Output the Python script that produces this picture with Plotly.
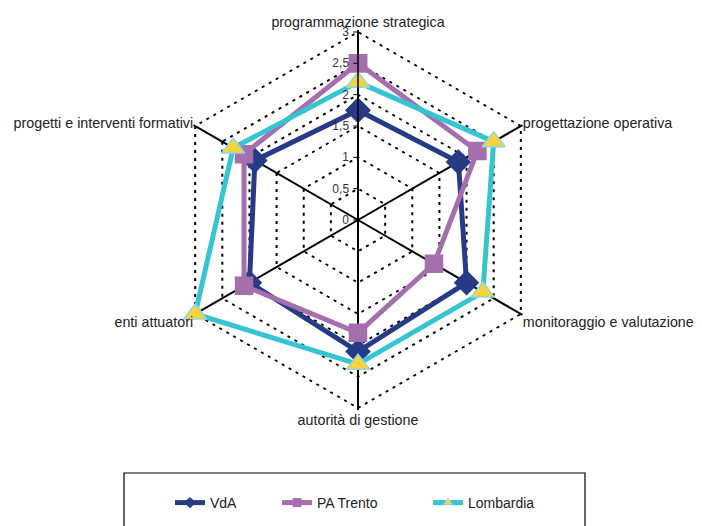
import plotly.graph_objects as go

categories = [
    "programmazione strategica",
    "progettazione operativa",
    "monitoraggio e valutazione",
    "autorità di gestione",
    "enti attuatori",
    "progetti e interventi formativi",
]
vda = [1.75, 1.85, 2.0, 2.1, 2.0, 1.9]
pa_trento = [2.5, 2.2, 1.4, 1.8, 2.1, 2.1]
lombardia = [2.2, 2.5, 2.3, 2.3, 3.0, 2.3]
radial_ticks = [0, 0.5, 1, 1.5, 2, 2.5, 3]

series = [
    # name, values, line colour, marker symbol, marker size, marker fill, marker edge, legend id
    ("VdA", vda, "#263A85", "diamond", 18, "#263A85", "#263A85", "legend"),
    ("PA Trento", pa_trento, "#A56EAD", "square", 17, "#A56EAD", "#A56EAD", "legend2"),
    ("Lombardia", lombardia, "#35C4D2", "triangle-up", 20, "#F9D33D", "#8ED8DE", "legend3"),
]


def closed(vals):
    return vals + vals[:1]


theta = closed(categories)

fig = go.Figure()
for name, vals, color, symbol, size, fill, edge, leg in series:
    fig.add_trace(go.Scatterpolar(
        r=closed(vals), theta=theta, name=name, mode="lines+markers",
        line=dict(color=color, width=5),
        marker=dict(symbol=symbol, size=size, color=fill,
                    line=dict(color=edge, width=1.5)),
        showlegend=False,
    ))
    # legend key: thick line with a small marker
    fig.add_trace(go.Scatterpolar(
        r=[None], theta=[categories[0]], name=name, mode="lines+markers",
        line=dict(color=color, width=5),
        marker=dict(symbol=symbol, size=8, color=fill,
                    line=dict(color=edge, width=1)),
        legend=leg, showlegend=True,
    ))

W, H = 702, 526
R_MAX = 3.03          # small headroom so the outer (3) ring is drawn as a grid line
cx, cy = 358, 220
R = 188 * R_MAX / 3


def legend_at(x_px):
    return dict(
        x=x_px / W, xanchor="left", y=1 - 503 / H, yanchor="middle",
        orientation="h", bgcolor="rgba(0,0,0,0)", borderwidth=0,
        font=dict(size=14, color="#222"),
    )


fig.update_layout(
    width=W, height=H,
    margin=dict(l=0, r=0, t=0, b=0),
    paper_bgcolor="white",
    separators=",.",
    font=dict(family="Liberation Sans, Arial, sans-serif", size=12, color="#222"),
    polar=dict(
        domain=dict(x=[(cx - R) / W, (cx + R) / W],
                    y=[1 - (cy + R) / H, 1 - (cy - R) / H]),
        bgcolor="white",
        gridshape="linear",
        radialaxis=dict(
            range=[0, R_MAX], tickvals=radial_ticks, angle=90,
            side="counterclockwise", tickangle=90,
            showline=True, linecolor="black", linewidth=1.5,
            ticks="outside", ticklen=4, tickcolor="black",
            showgrid=True, gridcolor="black", griddash="3px,5px", gridwidth=1.6,
            tickfont=dict(size=12, color="#333"),
        ),
        angularaxis=dict(
            rotation=90, direction="clockwise",
            showline=False,
            showgrid=True, gridcolor="black", gridwidth=1.5,
            ticks="", tickfont=dict(size=14.3, color="#222"),
        ),
    ),
    showlegend=True,
    legend=legend_at(170),
    legend2=legend_at(277),
    legend3=legend_at(428),
    shapes=[dict(type="rect", xref="paper", yref="paper",
                 x0=124 / W, x1=585 / W, y0=-0.05, y1=1 - 473 / H,
                 line=dict(color="black", width=1.2), fillcolor="rgba(0,0,0,0)")],
)

fig.write_html("out.html")
